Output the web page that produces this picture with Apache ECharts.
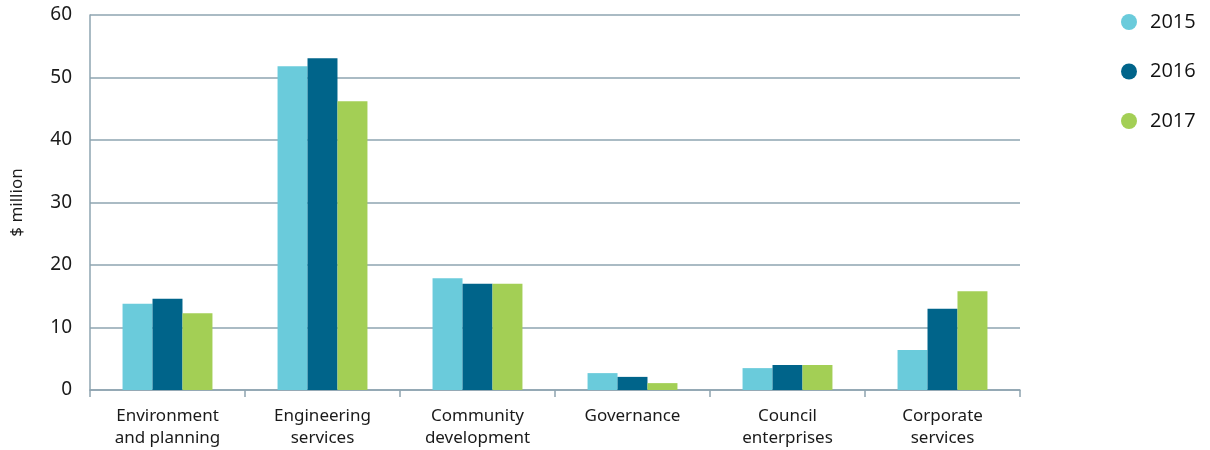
<!DOCTYPE html>
<html><head><meta charset="utf-8">
<script src="https://cdn.jsdelivr.net/npm/echarts@6/dist/echarts.min.js"></script>
<style>html,body{margin:0;padding:0;background:#fff}#c{width:1210px;height:450px}</style>
</head><body><div id="c"></div>
<script>
const categories = ['Environment\nand planning','Engineering\nservices','Community\ndevelopment','Governance','Council\nenterprises','Corporate\nservices'];
const seriesNames = ['2015','2016','2017'];
const v2015 = [13.8, 51.8, 17.9, 2.7, 3.5, 6.4];
const v2016 = [14.6, 53.1, 17.0, 2.1, 4.0, 13.0];
const v2017 = [12.3, 46.2, 17.0, 1.1, 4.0, 15.8];
const colors = ['#6acbdb','#00648a','#a3cf55'];
const yTicks = [0,10,20,30,40,50,60];

const chart = echarts.init(document.getElementById('c'));
const axisColor = '#8ea4b0';
chart.setOption({
  animation:false,
  color: colors,
  grid:{left:90, right:190, top:15, bottom:60},
  legend:{
    orient:'vertical', left:1116, top:7, icon:'circle', itemWidth:16, itemHeight:16, itemGap:29.5,
    textStyle:{fontFamily:'Open Sans', fontSize:20, color:'#111', padding:[0,0,0,8]},
    data: seriesNames
  },
  xAxis:{
    type:'category', data:categories,
    axisLine:{lineStyle:{color:axisColor, width:1.5}},
    axisTick:{show:true, length:7, lineStyle:{color:axisColor, width:1.5}},
    axisLabel:{fontFamily:'Noto Sans', fontSize:17, color:'#1a1a1a', lineHeight:22, margin:15}
  },
  yAxis:{
    type:'value', min:yTicks[0], max:yTicks[yTicks.length-1], interval:10,
    name:'$ million', nameLocation:'middle', nameGap:64, nameRotate:90,
    nameTextStyle:{fontFamily:'Noto Sans', fontSize:17, color:'#1a1a1a'},
    axisLine:{show:true, lineStyle:{color:axisColor, width:1.5}},
    axisTick:{show:false},
    axisLabel:{fontFamily:'Noto Sans', fontSize:19, color:'#1a1a1a', margin:18},
    splitLine:{lineStyle:{color:axisColor, width:1.5}}
  },
  series:[
    {name:seriesNames[0], type:'bar', data:v2015, barGap:'0%', barCategoryGap:'42%'},
    {name:seriesNames[1], type:'bar', data:v2016, barGap:'0%', barCategoryGap:'42%'},
    {name:seriesNames[2], type:'bar', data:v2017, barGap:'0%', barCategoryGap:'42%'}
  ]
});
</script></body></html>
